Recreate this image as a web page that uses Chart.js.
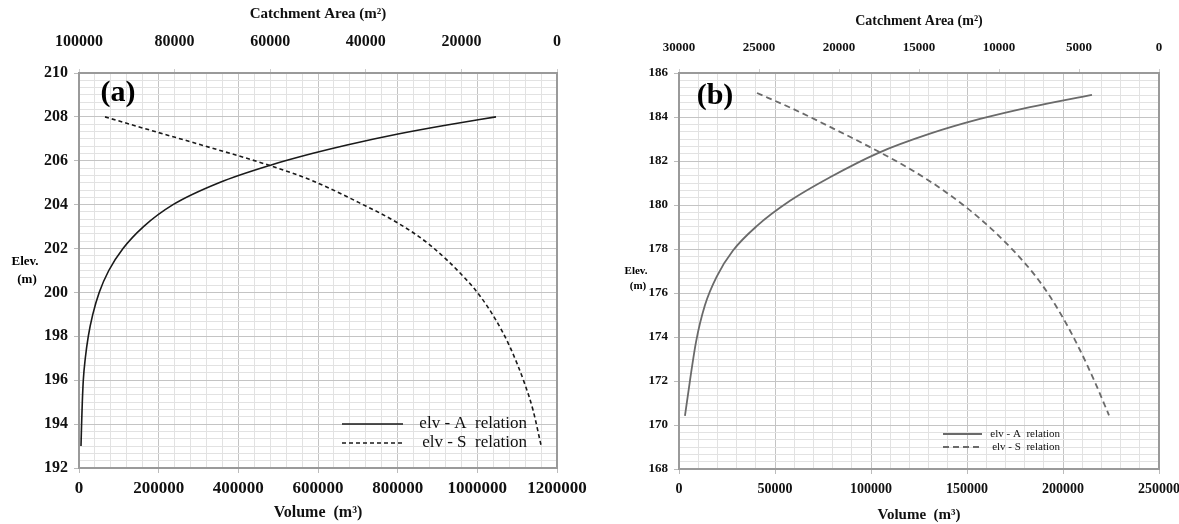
<!DOCTYPE html>
<html>
<head>
<meta charset="utf-8">
<script src="https://cdn.jsdelivr.net/npm/chart.js@4.4.1/dist/chart.umd.min.js"></script>
<style>
  html, body { margin: 0; padding: 0; background: #fff; }
  #wrap { position: relative; width: 1179px; height: 524px; overflow: hidden; }
  .box { position: absolute; top: 0; height: 524px; }
  #boxA { left: 0; width: 590px; }
  #boxB { left: 590px; width: 589px; }
</style>
</head>
<body>
<div id="wrap">
  <div class="box" id="boxA"><canvas id="chartA"></canvas></div>
  <div class="box" id="boxB"><canvas id="chartB"></canvas></div>
</div>
<script>
// ---- panel (a) ----
// solid curve, read against the bottom (volume) axis
var elevSolidA = [193, 194, 195, 196, 197, 198, 199, 200, 201, 202, 203, 204, 205, 205.82, 206.34, 206.72, 207.22, 207.63, 208];
var volSolidA  = [5000, 6500, 8300, 10800, 15800, 23300, 34600, 50700, 74800, 110500, 162000, 236000, 351500, 484500, 587500, 672800, 800900, 923900, 1046900];
// dashed curve, read against the top (catchment area) axis
var elevDashA  = [208, 207.53, 206.74, 205.75, 205.08, 204.07, 203.16, 202.16, 200.65, 199.84, 198.81, 197.51, 195.8, 194.64, 193.05];
var areaDashA  = [94560, 87240, 74680, 59620, 51040, 41210, 33260, 26570, 19250, 16110, 12970, 9830, 6690, 5020, 3350];

// ---- panel (b) ----
var elevSolidB = [170.41, 172.01, 173.77, 175.45, 176.77, 177.93, 179.05, 180.19, 181.26, 182.36, 183.24, 183.91, 184.45, 185.01];
var volSolidB  = [3100, 5700, 8850, 13540, 19790, 28120, 40620, 57810, 78640, 103640, 130720, 156760, 182800, 215090];
var elevDashB  = [185.09, 184.43, 183.55, 182.44, 181.56, 180.55, 179.38, 177.95, 176.8, 175.84, 174.71, 173.41, 171.94, 170.44];
var areaDashB  = [25125, 23060, 20560, 17560, 15380, 13250, 11190, 9125, 7750, 6810, 5875, 4940, 4000, 3125];

var legendLabels = ['elv - A  relation', 'elv - S  relation'];

var SERIF = '"Liberation Serif", "Times New Roman", serif';

function pairs(xs, ys) {
    return xs.map(function (x, i) { return { x: x, y: ys[i] }; });
}

function evenTicks(min, max, n) {
    return function (scale) {
        var t = [];
        for (var i = 0; i <= n; i++) t.push({ value: min + i * (max - min) / n });
        scale.ticks = t;
    };
}

function isMult(v, m) {
    var r = v / m;
    return Math.abs(r - Math.round(r)) < 1e-6;
}

// draws plot frame, panel letter, horizontal y title and the inside legend
var annot = {
    id: 'annot',
    afterDraw: function (chart, args, o) {
        var ctx = chart.ctx, a = chart.chartArea;
        ctx.save();
        ctx.strokeStyle = '#9a9a9a';
        ctx.lineWidth = 2;
        ctx.strokeRect(a.left, a.top, a.right - a.left, a.bottom - a.top);

        ctx.fillStyle = '#000';
        ctx.textAlign = 'center';
        ctx.textBaseline = 'middle';
        ctx.font = 'bold ' + o.letterSize + 'px ' + SERIF;
        ctx.fillText(o.letter, o.letterX, o.letterY);

        ctx.font = 'bold ' + o.ytSize + 'px ' + SERIF;
        ctx.fillText('Elev.', o.ytX, o.ytY);
        ctx.fillText('(m)', o.ytX + 2, o.ytY + o.ytGap);

        ctx.font = o.legSize + 'px ' + SERIF;
        ctx.textAlign = 'right';
        chart.data.datasets.forEach(function (ds, i) {
            var y = o.legY + i * o.legGap;
            ctx.strokeStyle = ds.borderColor;
            ctx.lineWidth = ds.borderWidth;
            ctx.setLineDash(ds.borderDash || []);
            ctx.beginPath();
            ctx.moveTo(o.legX1, y);
            ctx.lineTo(o.legX2, y);
            ctx.stroke();
            ctx.setLineDash([]);
            ctx.fillStyle = '#111';
            ctx.fillText(ds.label, o.legTextRight, y);
        });
        ctx.restore();
    }
};

function noSidePad(s) { s.paddingLeft = 0; s.paddingRight = 0; }

function makeChart(id, cfg) {
    var majorX = cfg.xMajor, majorY = 2, majorX2 = cfg.x2Major;
    return new Chart(document.getElementById(id), {
        type: 'scatter',
        data: {
            datasets: [
                { label: legendLabels[0], data: pairs(cfg.solidX, cfg.solidY), xAxisID: 'x', yAxisID: 'y',
                  showLine: true, pointRadius: 0, borderColor: cfg.lineColor, borderWidth: cfg.lineWidth,
                  cubicInterpolationMode: 'monotone' },
                { label: legendLabels[1], data: pairs(cfg.dashX, cfg.dashY), xAxisID: 'x2', yAxisID: 'y',
                  showLine: true, pointRadius: 0, borderColor: cfg.lineColor, borderWidth: cfg.lineWidth, borderDash: cfg.dash,
                  cubicInterpolationMode: 'monotone' }
            ]
        },
        options: {
            responsive: true,
            maintainAspectRatio: false,
            animation: false,
            layout: { padding: { left: 0, right: cfg.padRight, top: 0, bottom: 0 } },
            plugins: {
                legend: { display: false },
                tooltip: { enabled: false },
                annot: cfg.annot
            },
            scales: {
                x: {
                    type: 'linear', position: 'bottom', min: 0, max: cfg.xMax,
                    afterBuildTicks: evenTicks(0, cfg.xMax, cfg.xMinorCount),
                    afterFit: function (s) { s.height = cfg.bottomH; noSidePad(s); },
                    grid: {
                        color: function (c) { return isMult(c.tick.value, majorX) ? '#c4c4c4' : '#e2e2e2'; },
                        tickColor: function (c) { return isMult(c.tick.value, majorX) ? '#bbb' : 'rgba(0,0,0,0)'; },
                        tickLength: 5, lineWidth: 1
                    },
                    border: { display: false },
                    ticks: {
                        autoSkip: false, maxRotation: 0, padding: cfg.xPad, color: '#111',
                        font: { family: SERIF, weight: 'bold', size: cfg.xFont },
                        callback: function (v) { return isMult(v, majorX) ? String(Math.round(v)) : ''; }
                    },
                    title: { display: true, text: 'Volume  (m³)', color: '#111',
                             font: { family: SERIF, weight: 'bold', size: cfg.titleFont },
                             padding: { top: 0, bottom: cfg.xTitlePad } }
                },
                x2: {
                    type: 'linear', position: 'top', reverse: true, min: 0, max: cfg.x2Max,
                    afterBuildTicks: evenTicks(0, cfg.x2Max, cfg.x2Max / majorX2),
                    afterFit: function (s) { s.height = 73; noSidePad(s); },
                    grid: { drawOnChartArea: false, color: '#ccc', tickLength: 4 },
                    border: { display: false },
                    ticks: {
                        autoSkip: false, maxRotation: 0, padding: cfg.x2Pad, color: '#111',
                        font: { family: SERIF, weight: 'bold', size: cfg.x2Font },
                        callback: function (v) { return String(Math.round(v)); }
                    },
                    title: { display: true, text: 'Catchment Area (m²)', color: '#111',
                             font: { family: SERIF, weight: 'bold', size: cfg.x2TitleFont },
                             padding: { top: cfg.x2TitlePad, bottom: 0 } }
                },
                y: {
                    type: 'linear', min: cfg.yMin, max: cfg.yMax,
                    afterBuildTicks: evenTicks(cfg.yMin, cfg.yMax, (cfg.yMax - cfg.yMin) * 3),
                    afterFit: function (s) { s.width = cfg.yW; s.paddingTop = 0; s.paddingBottom = 0; },
                    grid: {
                        color: function (c) { return isMult(c.tick.value, majorY) ? '#c4c4c4' : '#e2e2e2'; },
                        tickColor: function (c) { return isMult(c.tick.value, majorY) ? '#bbb' : 'rgba(0,0,0,0)'; },
                        tickLength: 5, lineWidth: 1
                    },
                    border: { display: false },
                    ticks: {
                        autoSkip: false, padding: 6, color: '#111',
                        font: { family: SERIF, weight: 'bold', size: cfg.yFont },
                        callback: function (v) { return isMult(v, majorY) ? String(Math.round(v)) : ''; }
                    }
                }
            }
        },
        plugins: [annot]
    });
}

makeChart('chartA', {
    solidX: volSolidA, solidY: elevSolidA, dashX: areaDashA, dashY: elevDashA,
    lineColor: '#1a1a1a', lineWidth: 1.6, dash: [4, 3],
    xMax: 1200000, xMajor: 200000, xMinorCount: 30,
    x2Max: 100000, x2Major: 20000,
    yMin: 192, yMax: 210, yW: 79, padRight: 33, bottomH: 56,
    xFont: 17, yFont: 16, x2Font: 16, titleFont: 16, x2TitleFont: 15,
    xPad: 5, xTitlePad: 2, x2Pad: 18, x2TitlePad: 5,
    annot: {
        letter: '(a)', letterSize: 30, letterX: 118, letterY: 93,
        ytSize: 13, ytX: 25, ytY: 262, ytGap: 18,
        legSize: 17, legY: 424, legGap: 19, legX1: 342, legX2: 403, legTextRight: 527
    }
});

makeChart('chartB', {
    solidX: volSolidB, solidY: elevSolidB, dashX: areaDashB, dashY: elevDashB,
    lineColor: '#6a6a6a', lineWidth: 1.8, dash: [6, 4],
    xMax: 250000, xMajor: 50000, xMinorCount: 25,
    x2Max: 30000, x2Major: 5000,
    yMin: 168, yMax: 186, yW: 89, padRight: 20, bottomH: 55,
    xFont: 14, yFont: 13, x2Font: 13, titleFont: 15, x2TitleFont: 14,
    xPad: 7, xTitlePad: 0, x2Pad: 14, x2TitlePad: 13,
    annot: {
        letter: '(b)', letterSize: 30, letterX: 125, letterY: 96,
        ytSize: 11, ytX: 46, ytY: 271, ytGap: 15,
        legSize: 11, legY: 434, legGap: 13, legX1: 353, legX2: 392, legTextRight: 470
    }
});
</script>
</body>
</html>
